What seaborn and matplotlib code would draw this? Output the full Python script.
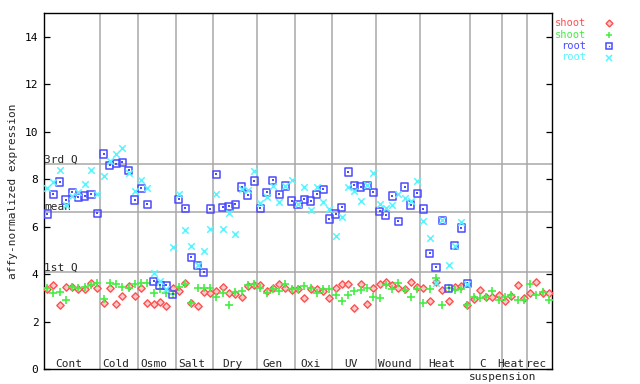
import numpy as np
import pandas as pd
import matplotlib
matplotlib.use("Agg")
import matplotlib.pyplot as plt
from matplotlib.transforms import blended_transform_factory
import seaborn as sns

# experiment groups and number of samples in each
groups = ["Cont", "Cold", "Osmo", "Salt", "Dry", "Gen", "Oxi", "UV", "Wound",
          "Heat", "C\nsuspension", "Heat", "rec"]
group_sizes = [9, 6, 6, 6, 7, 6, 6, 7, 7, 8, 5, 4, 4]

# shoot, series 1 (red diamonds)
shoot_1 = [3.36, 3.54, 2.70, 3.45, 3.45, 3.36, 3.36, 3.62, 3.40,
           2.77, 3.40, 2.74, 3.08, 3.50, 3.08,
           3.40, 2.77, 2.74, 2.81, 2.67, 3.40,
           3.30, 3.62, 2.77, 2.66, 3.26, 3.19,
           3.29, 3.45, 3.19, 3.15, 3.02, 3.49, 3.53,
           3.53, 3.28, 3.40, 3.57, 3.40, 3.32,
           3.36, 2.98, 3.36, 3.36, 3.28, 2.98,
           3.40, 3.57, 3.57, 2.56, 3.57, 2.73, 3.40,
           3.57, 3.66, 3.53, 3.40, 3.36, 3.66, 3.45,
           3.40, 2.86, 3.66, 3.32, 2.86, 3.45, 3.49, 2.69,
           2.94, 3.32, 3.03, 3.03, 3.11,
           2.86, 3.07, 3.53, 2.98,
           3.19, 3.66, 3.19, 3.19]

# shoot, series 2 (green plus)
shoot_2 = [3.42, 3.19, 3.24, 2.91, 3.47, 3.42, 3.47, 3.53, 3.62,
           2.95, 3.62, 3.57, 3.45, 3.40, 3.57,
           3.62, 3.62, 3.19, 3.36, 3.19, 3.15,
           3.47, 3.60, 2.79, 3.40, 3.40, 3.40,
           3.02, 3.19, 2.69, 3.24, 3.28, 3.53, 3.57,
           3.40, 3.19, 3.36, 3.28, 3.57, 3.36,
           3.36, 3.49, 3.40, 3.19, 3.36, 3.36,
           3.11, 2.86, 3.11, 3.28, 3.32, 3.40, 3.03,
           2.98, 3.53, 3.36, 3.62, 3.32, 3.03, 3.36,
           2.77, 3.36, 3.83, 2.69, 3.40, 3.32, 3.36, 2.69,
           3.03, 2.98, 3.03, 3.28, 2.90,
           3.03, 3.11, 2.90, 2.90,
           3.57, 3.11, 3.24, 2.90]

# root, series 1 (blue squares) - no root samples after the first Heat group
root_1 = [6.53, 7.37, 7.88, 7.12, 7.45, 7.24, 7.29, 7.37, 6.57,
          9.06, 8.59, 8.64, 8.72, 8.38, 7.12,
          7.62, 6.95, 3.70, 3.53, 3.53, 3.15,
          7.16, 6.78, 4.71, 4.38, 4.08, 6.74,
          8.21, 6.82, 6.86, 6.95, 7.67, 7.33, 7.92,
          6.78, 7.45, 7.96, 7.37, 7.71, 7.08,
          6.95, 7.16, 7.08, 7.37, 7.58, 6.32,
          6.53, 6.82, 8.30, 7.75, 7.67, 7.75, 7.45,
          6.65, 6.49, 7.29, 6.23, 7.67, 6.91, 7.41,
          6.74, 4.88, 4.29, 6.27, 3.40, 5.20, 5.94, 3.62]

# root, series 2 (cyan crosses)
root_2 = [7.62, 7.88, 8.38, 6.91, 7.29, 7.45, 7.79, 8.38, 7.37,
          8.13, 8.78, 9.06, 9.31, 8.26, 7.50,
          7.96, 7.62, 4.04, 3.70, 3.36, 5.13,
          7.37, 5.85, 5.18, 4.38, 4.97, 5.89,
          7.37, 5.89, 6.57, 5.68, 7.58, 7.54, 8.34,
          6.99, 7.24, 7.71, 7.03, 7.71, 7.96,
          6.95, 7.67, 6.70, 7.67, 7.03, 6.74,
          5.60, 6.40, 7.67, 7.50, 7.08, 7.75, 8.26,
          6.95, 6.78, 6.91, 7.37, 7.20, 7.08, 7.92,
          6.23, 5.51, 3.62, 6.27, 4.38, 5.20, 6.19, 3.57]

# summary lines
third_q = 8.65
mean_val = 6.62
first_q = 4.09

red = "#ff5050"
green = "#44ee44"
blue = "#4a4aff"
cyan = "#55f5ff"

sns.set_style("white")
plt.rcParams['font.family'] = ['DejaVu Sans Mono']
fs = 8

fig = plt.figure(figsize=(6.4, 3.84), dpi=100)
ax = fig.add_axes([44 / 640, 15 / 384, 508 / 640, 356 / 384])

n = sum(group_sizes)
ax.set_xlim(-0.5, n - 0.5)
ax.set_ylim(0, 15)

# grey separators between groups and the summary lines
bounds = np.cumsum(group_sizes)
for b in bounds[:-1]:
    ax.axvline(b - 0.5, color="#a8a8a8", lw=1.1, zorder=1)
for val in [third_q, mean_val, first_q]:
    ax.axhline(val, color="#a8a8a8", lw=1.1, zorder=1)
for val, lab in [(third_q, "3rd Q"), (mean_val, "mean"), (first_q, "1st Q")]:
    ax.text(-0.45, val + 0.06, lab, fontsize=fs, va="baseline", ha="left", zorder=2)

# points
df_shoot = pd.DataFrame({"idx": np.arange(len(shoot_1)), "s1": shoot_1, "s2": shoot_2})
df_root = pd.DataFrame({"idx": np.arange(len(root_1)), "r1": root_1, "r2": root_2})

sns.scatterplot(data=df_shoot, x="idx", y="s1", marker="D", s=14, facecolor="#ffc8c8",
                edgecolor=red, linewidth=1.0, ax=ax, zorder=3)
sns.scatterplot(data=df_shoot, x="idx", y="s2", marker="+", s=36, color=green,
                linewidth=1.2, ax=ax, zorder=3)
sns.scatterplot(data=df_root, x="idx", y="r1", marker="s", s=26, facecolor="none",
                edgecolor=blue, linewidth=1.1, ax=ax, zorder=3)
sns.scatterplot(data=df_root, x="idx", y="r1", marker="s", s=1.5, color=blue,
                linewidth=0, ax=ax, zorder=3)
sns.scatterplot(data=df_root, x="idx", y="r2", marker="x", s=22, color=cyan,
                linewidth=1.1, ax=ax, zorder=3)

# group labels along the bottom
starts = np.concatenate([[0], bounds[:-1]])
tr = blended_transform_factory(ax.transData, ax.transAxes)
for g, st, sz in zip(groups, starts, group_sizes):
    cx = st + (sz - 1) / 2 - 0.5
    lines = g.split("\n")
    ax.text(cx, 0.006, lines[0], transform=tr, fontsize=fs, ha="center", va="baseline")
    if len(lines) > 1:
        ax.text(cx + 3.2, -0.03, lines[1], transform=tr, fontsize=fs, ha="center",
                va="baseline", clip_on=False)

ax.set_xticks([])
ax.set_yticks(range(0, 15, 2))
ax.tick_params(axis="y", direction="in", length=4.2, width=0.9, left=True, right=True,
               labelsize=fs, pad=4, colors="black")
ax.set_xlabel("")
ax.set_ylabel("")
for sp in ax.spines.values():
    sp.set_color("black")
    sp.set_linewidth(1.0)

fig.text(13 / 640, 1 - 191 / 384, "affy-normalized expression", rotation=90,
         ha="center", va="center", fontsize=fs)

# legend at top right
leg = [("shoot", red, "D", 23), ("shoot", green, "+", 34.5), ("root", blue, "s", 46),
       ("root", cyan, "x", 57.5)]
for lab, col, mk, ypx in leg:
    yf = 1 - ypx / 384
    fig.text(586 / 640, yf, lab, color=col, ha="right", va="center", fontsize=7.5)
    if mk == "D":
        ax.plot([609 / 640], [yf], marker=mk, ms=3.5, mfc="#ffc8c8", mec=col, mew=1.0,
                transform=fig.transFigure, clip_on=False)
    elif mk == "s":
        ax.plot([609 / 640], [yf], marker=mk, ms=4.6, mfc="none", mec=col, mew=1.1,
                transform=fig.transFigure, clip_on=False)
        ax.plot([609 / 640], [yf], marker=mk, ms=1.0, mfc=col, mec=col, mew=0,
                transform=fig.transFigure, clip_on=False)
    else:
        ax.plot([609 / 640], [yf], marker=mk, ms=5, color=col, mew=1.1,
                transform=fig.transFigure, clip_on=False)

fig.savefig("out.png", dpi=100)
